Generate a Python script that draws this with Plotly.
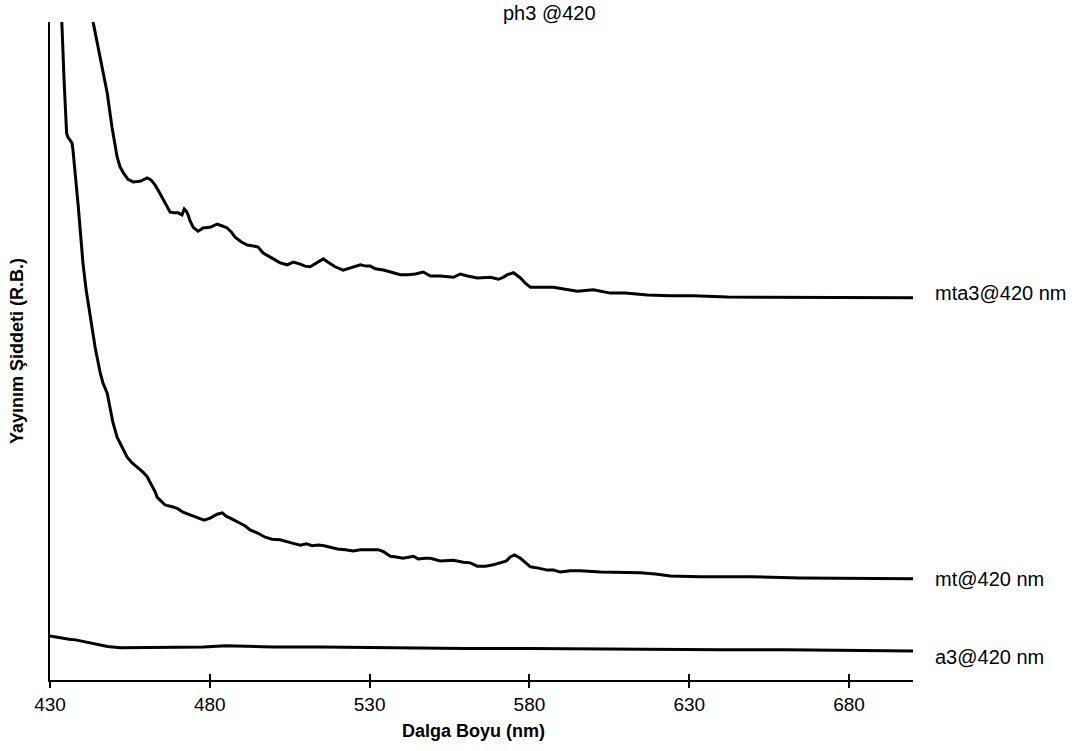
import plotly.graph_objects as go

# Emission spectra, excitation at 420 nm (arbitrary intensity units)
mta3_wl = [442.5, 443.5, 445.7, 447.9, 449.4, 451.0, 451.9, 452.9, 454.4, 456.0,
           458.2, 460.4, 461.6, 462.9, 464.1, 465.4, 466.6, 467.6, 468.8, 470.1,
           471.3, 472.0, 472.6, 473.2, 473.8, 474.8, 476.3, 477.9, 480.1, 482.3,
           483.9, 485.4, 486.7, 487.9, 489.8, 491.7, 493.2, 495.1, 496.7, 498.9,
           500.8, 502.0, 504.2, 506.1, 508.3, 509.8, 511.4, 513.6, 515.5, 517.0,
           519.2, 521.7, 523.9, 525.5, 527.1, 528.9, 530.2, 531.8, 534.3, 537.4,
           539.6, 542.1, 544.3, 546.8, 549.0, 552.1, 556.2, 558.4, 560.6, 563.7,
           567.8, 570.3, 571.8, 573.1, 575.0, 577.2, 578.7, 580.3, 582.8, 585.6,
           587.5, 591.2, 595.0, 600.0, 605.3, 610.0, 616.9, 624.1, 631.3, 642.0,
           652.3, 662.6, 673.3, 686.7, 700.0]
mta3_int = [1024, 1000, 942, 892, 840, 795, 780, 771, 761, 757,
            758, 763, 760, 752, 742, 730, 719, 711, 710, 710,
            707, 716, 713, 707, 698, 688, 682, 687, 688, 693,
            690, 687, 681, 673, 666, 661, 660, 658, 649, 643,
            637, 634, 631, 635, 632, 629, 628, 635, 640, 635,
            628, 623, 626, 629, 631, 629, 629, 625, 623, 619,
            616, 616, 617, 620, 614, 614, 612, 617, 614, 611,
            612, 609, 612, 616, 619, 611, 603, 597, 597, 597,
            597, 594, 591, 593, 588, 588, 585, 584, 584, 582,
            582, 582, 582, 581, 581]

mt_wl = [433.3, 433.7, 434.4, 435.2, 435.6, 436.3, 436.9, 437.2, 437.8, 438.8,
         439.9, 440.3, 441.3, 442.5, 444.1, 445.7, 446.6, 447.9, 448.8, 449.7,
         451.0, 452.5, 454.1, 455.7, 457.2, 459.1, 460.4, 461.3, 462.3, 462.9,
         463.5, 464.8, 466.0, 468.5, 470.1, 471.6, 473.8, 476.0, 478.2, 480.1,
         481.0, 482.3, 483.9, 485.1, 486.4, 487.9, 489.5, 491.1, 492.6, 495.1,
         497.3, 499.5, 502.0, 503.9, 505.8, 508.3, 510.2, 512.0, 513.9, 515.8,
         517.7, 519.9, 522.4, 524.9, 527.1, 528.9, 531.1, 532.7, 534.3, 536.5,
         538.3, 540.5, 543.7, 545.2, 547.4, 549.0, 552.1, 554.3, 556.2, 559.3,
         561.5, 563.7, 566.2, 568.7, 570.9, 572.8, 574.0, 575.3, 577.2, 578.7,
         580.3, 582.8, 585.6, 587.5, 589.7, 592.8, 595.9, 602.2, 608.5, 614.7,
         619.4, 624.1, 633.5, 649.2, 664.8, 680.5, 700.0]
mt_int = [1033, 1000, 912, 831, 825, 821, 816, 805, 775, 722,
          658, 634, 593, 558, 506, 467, 451, 436, 413, 391,
          369, 354, 339, 330, 324, 316, 309, 301, 293, 286,
          278, 271, 266, 263, 260, 255, 251, 248, 243, 246,
          248, 252, 254, 249, 246, 242, 239, 234, 228, 223,
          217, 214, 213, 211, 208, 205, 207, 204, 205, 204,
          202, 199, 198, 196, 198, 198, 199, 198, 195, 188,
          187, 185, 188, 184, 185, 185, 181, 182, 182, 179,
          178, 173, 173, 175, 178, 181, 187, 190, 185, 179,
          172, 170, 167, 167, 164, 166, 166, 164, 163, 163,
          161, 158, 157, 157, 155, 155, 154]

a3_wl = [430, 432, 434, 436, 438, 440, 442, 445, 448, 452, 460, 470, 478, 485,
         492, 500, 515, 530, 545, 560, 580, 600, 620, 640, 660, 680, 700]
a3_int = [67, 65, 64, 62, 61, 59, 56, 53, 51, 49, 49, 49, 50, 52,
          51, 50, 50, 49, 49, 48, 48, 47, 46, 46, 46, 45, 44]

series_names = ["mta3@420 nm", "mt@420 nm", "a3@420 nm"]
tick_values = [430, 480, 530, 580, 630, 680]

FONT = "Liberation Sans, Arial, sans-serif"

fig = go.Figure()
series = [(mta3_wl, mta3_int), (mt_wl, mt_int), (a3_wl, a3_int)]
for (wl, inten), name in zip(series, series_names):
    fig.add_trace(go.Scatter(x=wl, y=inten, mode="lines", name=name,
                             line=dict(color="black", width=3),
                             hoverinfo="x+y+name"))

# second x axis only to draw the inner half of the crossing tick marks
fig.add_trace(go.Scatter(x=[430], y=[None], xaxis="x2", showlegend=False,
                         hoverinfo="skip"))

label_shift = [5, 0, -6]
annotations = []
for (wl, inten), name, dy in zip(series, series_names, label_shift):
    annotations.append(dict(x=wl[-1], y=inten[-1], xref="x", yref="y",
                            text=name, showarrow=False, xanchor="left",
                            yanchor="middle", xshift=20, yshift=dy,
                            font=dict(family=FONT, size=20, color="black")))

annotations += [
    dict(text="ph3 @420", xref="paper", yref="paper", x=(549 - 50) / 863, y=1,
         yshift=9, showarrow=False, xanchor="center", yanchor="middle",
         font=dict(family=FONT, size=20, color="black")),
    dict(text="<b>Dalga Boyu (nm)</b>", xref="paper", yref="paper",
         x=(473 - 50) / 863, y=0, yshift=-51, showarrow=False,
         xanchor="center", yanchor="middle",
         font=dict(family=FONT, size=18, color="black")),
    dict(text="<b>Yayınım Şiddeti (R.B.)</b>", xref="paper", yref="paper",
         x=0, y=0.5, xshift=-33, textangle=-90, showarrow=False,
         xanchor="center", yanchor="middle",
         font=dict(family=FONT, size=18, color="black")),
]

fig.update_layout(
    width=1078, height=751,
    margin=dict(l=50, r=165, t=22, b=71),
    paper_bgcolor="white", plot_bgcolor="white",
    showlegend=False,
    font=dict(family=FONT, size=19, color="black"),
    xaxis=dict(range=[430, 700], tickvals=tick_values, ticks="outside",
               ticklen=6, tickwidth=2, tickcolor="black",
               showline=True, linewidth=2, linecolor="black",
               showgrid=False, zeroline=False,
               tickfont=dict(family=FONT, size=19, color="black")),
    xaxis2=dict(range=[430, 700], tickvals=tick_values, ticks="inside",
                ticklen=6, tickwidth=2, tickcolor="black",
                overlaying="x", side="bottom", showticklabels=False,
                showline=False, showgrid=False, zeroline=False),
    yaxis=dict(range=[0, 1000], showticklabels=False, ticks="",
               showline=True, linewidth=2, linecolor="black",
               showgrid=False, zeroline=False),
    annotations=annotations,
)

fig.write_html("out.html")
